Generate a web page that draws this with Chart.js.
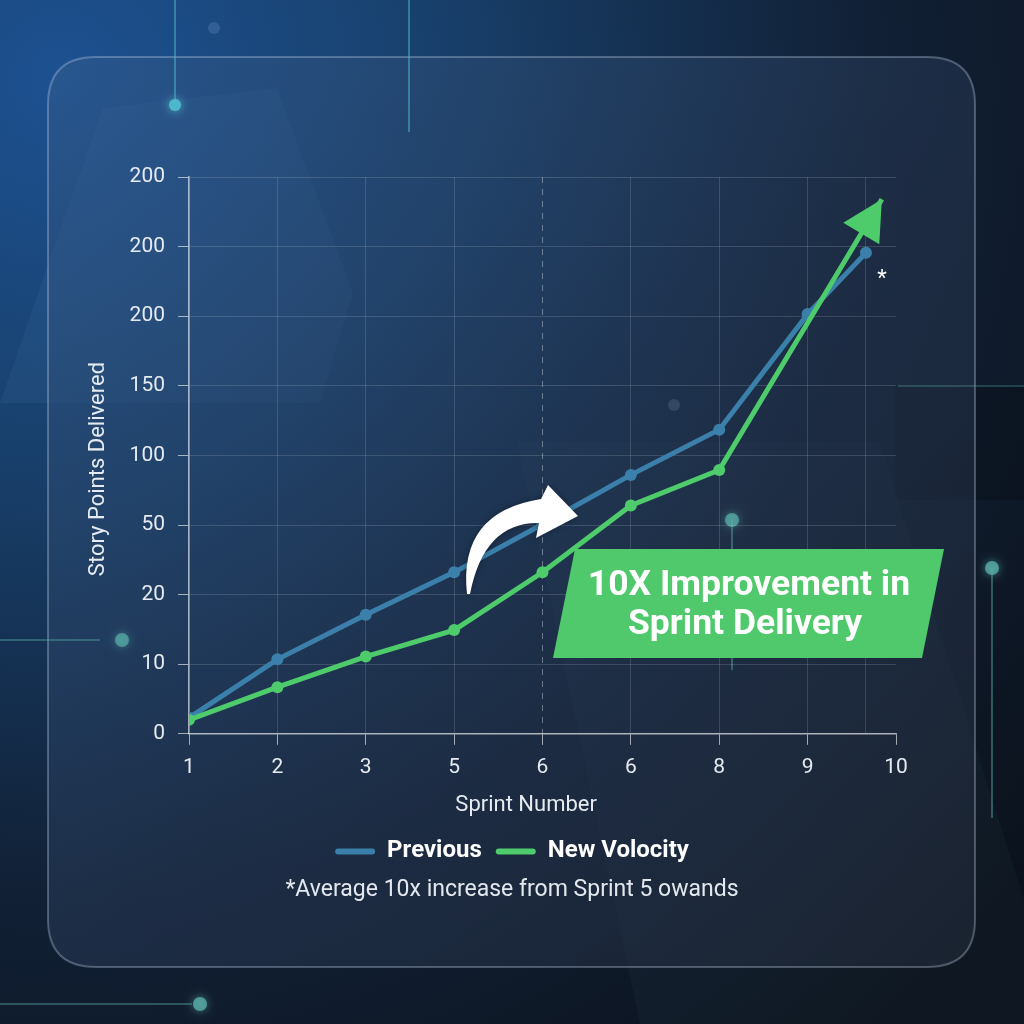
<!DOCTYPE html>
<html lang="en">
<head>
    <meta charset="UTF-8">
    <title>Sprint Velocity</title>
    <style>
        html, body { margin: 0; padding: 0; background: #0f1b2c; overflow: hidden; }
        canvas { display: block; }
    </style>
    <script src="https://cdn.jsdelivr.net/npm/chart.js"></script>
</head>
<body>
    <canvas id="velocityChart" width="1024" height="1024"></canvas>

    <script>
        // Chart data (y values are positions on the evenly spaced tick scale)
        const xTickLabels = ['1', '2', '3', '5', '6', '6', '8', '9', '10'];
        const yTickLabels = ['0', '10', '20', '50', '100', '150', '200', '200', '200'];
        const previousX = [0, 1, 2, 3, 4, 5, 6, 7, 7.66];
        const previousY = [0.23, 1.07, 1.71, 2.32, 3.01, 3.72, 4.37, 6.03, 6.91];
        const newX = [0, 1, 2, 3, 4, 5, 6, 7.84];
        const newY = [0.2, 0.67, 1.11, 1.49, 2.32, 3.28, 3.79, 7.68];
        const seriesNames = ['Previous', 'New Volocity'];
        const footnote = '*Average 10x increase from Sprint 5 owands';
        const calloutLines = ['10X Improvement in', 'Sprint Delivery'];

        const BLUE = '#3b80aa';
        const GREEN = '#4ecb6b';

        Chart.defaults.font.family = 'Roboto';

        function roundRect(ctx, x, y, w, h, r) {
            ctx.beginPath();
            ctx.moveTo(x + r, y);
            ctx.lineTo(x + w - r, y);
            ctx.quadraticCurveTo(x + w, y, x + w, y + r);
            ctx.lineTo(x + w, y + h - r);
            ctx.quadraticCurveTo(x + w, y + h, x + w - r, y + h);
            ctx.lineTo(x + r, y + h);
            ctx.quadraticCurveTo(x, y + h, x, y + h - r);
            ctx.lineTo(x, y + r);
            ctx.quadraticCurveTo(x, y, x + r, y);
            ctx.closePath();
        }

        function dot(ctx, x, y, r, color, glow) {
            ctx.save();
            ctx.shadowColor = color;
            ctx.shadowBlur = glow;
            ctx.fillStyle = color;
            ctx.beginPath();
            ctx.arc(x, y, r, 0, Math.PI * 2);
            ctx.fill();
            ctx.restore();
        }

        function line(ctx, x1, y1, x2, y2, color) {
            ctx.save();
            ctx.strokeStyle = color;
            ctx.lineWidth = 1.5;
            ctx.beginPath();
            ctx.moveTo(x1, y1);
            ctx.lineTo(x2, y2);
            ctx.stroke();
            ctx.restore();
        }

        // Background, card and decorations
        const backdropPlugin = {
            id: 'backdrop',
            beforeDraw(chart) {
                const ctx = chart.ctx;
                const w = chart.width, h = chart.height;
                ctx.save();
                const bg = ctx.createRadialGradient(60, 80, 0, 60, 80, 1250);
                bg.addColorStop(0, '#1d5191');
                bg.addColorStop(0.3, '#18406c');
                bg.addColorStop(0.65, '#112035');
                bg.addColorStop(1, '#0b121c');
                ctx.fillStyle = bg;
                ctx.fillRect(0, 0, w, h);

                // faint shapes
                ctx.fillStyle = 'rgba(120,170,230,0.07)';
                ctx.beginPath();
                ctx.moveTo(0, 403);
                ctx.lineTo(60, 230);
                ctx.lineTo(103, 108);
                ctx.lineTo(277, 88);
                ctx.lineTo(353, 293);
                ctx.lineTo(320, 403);
                ctx.closePath();
                ctx.fill();

                ctx.fillStyle = 'rgba(0,0,0,0.18)';
                ctx.fillRect(895, 385, 129, 115);

                ctx.fillStyle = 'rgba(140,170,210,0.04)';
                ctx.beginPath();
                ctx.moveTo(517, 442);
                ctx.lineTo(880, 442);
                ctx.lineTo(1024, 900);
                ctx.lineTo(1024, 1024);
                ctx.lineTo(640, 1024);
                ctx.closePath();
                ctx.fill();

                // card
                const card = ctx.createLinearGradient(48, 57, 975, 967);
                card.addColorStop(0, 'rgba(52,92,140,0.45)');
                card.addColorStop(0.5, 'rgba(40,58,86,0.5)');
                card.addColorStop(1, 'rgba(36,44,60,0.55)');
                roundRect(ctx, 48, 57, 927, 910, 48);
                ctx.fillStyle = card;
                ctx.fill();
                ctx.strokeStyle = 'rgba(200,215,235,0.32)';
                ctx.lineWidth = 2;
                ctx.stroke();

                // circuit lines and dots
                const teal = 'rgba(78,180,200,0.7)';
                line(ctx, 175, 0, 175, 100, teal);
                dot(ctx, 175, 105, 6, '#4fb7cc', 10);
                line(ctx, 409, 0, 409, 132, teal);
                dot(ctx, 214, 28, 6, 'rgba(120,160,210,0.25)', 0);
                dot(ctx, 674, 405, 6, 'rgba(130,150,180,0.22)', 0);
                line(ctx, 732, 520, 732, 670, 'rgba(90,170,170,0.6)');
                dot(ctx, 732, 520, 7, 'rgba(90,175,170,0.75)', 10);
                line(ctx, 992, 568, 992, 818, 'rgba(90,170,170,0.6)');
                dot(ctx, 992, 568, 7, 'rgba(90,175,170,0.8)', 10);
                line(ctx, 0, 640, 100, 640, 'rgba(90,170,170,0.55)');
                dot(ctx, 122, 640, 7, 'rgba(90,175,170,0.7)', 8);
                line(ctx, 0, 1004, 192, 1004, 'rgba(90,170,170,0.55)');
                dot(ctx, 200, 1004, 7, 'rgba(90,175,170,0.8)', 10);
                line(ctx, 898, 386, 1024, 386, 'rgba(90,170,170,0.4)');
                ctx.restore();
            }
        };

        // Dashed guide at Sprint 6, arrowhead, callout, curved arrow
        const overlayPlugin = {
            id: 'overlay',
            beforeDatasetsDraw(chart) {
                const ctx = chart.ctx;
                const x = chart.scales.x.getPixelForValue(4);
                ctx.save();
                ctx.strokeStyle = 'rgba(255,255,255,0.35)';
                ctx.lineWidth = 1;
                ctx.setLineDash([6, 6]);
                ctx.beginPath();
                ctx.moveTo(x, chart.chartArea.top);
                ctx.lineTo(x, chart.chartArea.bottom);
                ctx.stroke();
                ctx.restore();
            },
            afterDatasetsDraw(chart) {
                const ctx = chart.ctx;
                ctx.save();

                // green arrowhead at the end of the new velocity line
                const pts = chart.getDatasetMeta(1).data;
                const tip = pts[pts.length - 1];
                const prev = pts[pts.length - 2];
                const ang = Math.atan2(tip.y - prev.y, tip.x - prev.x);
                const len = 40, half = 21;
                const bx = tip.x - len * Math.cos(ang), by = tip.y - len * Math.sin(ang);
                ctx.fillStyle = GREEN;
                ctx.beginPath();
                ctx.moveTo(tip.x, tip.y);
                ctx.lineTo(bx - half * Math.sin(ang), by + half * Math.cos(ang));
                ctx.lineTo(bx + half * Math.sin(ang), by - half * Math.cos(ang));
                ctx.closePath();
                ctx.fill();

                // asterisk next to the last previous point
                const lastPrev = chart.getDatasetMeta(0).data[previousX.length - 1];
                ctx.fillStyle = '#ffffff';
                ctx.font = '22px Roboto';
                ctx.textAlign = 'center';
                ctx.textBaseline = 'middle';
                ctx.fillText('*', lastPrev.x + 16, lastPrev.y + 27);

                // white curved arrow
                ctx.fillStyle = '#ffffff';
                ctx.shadowColor = 'rgba(0,0,0,0.35)';
                ctx.shadowBlur = 6;
                ctx.beginPath();
                ctx.moveTo(467, 594);
                ctx.quadraticCurveTo(458, 512, 541, 499);
                ctx.lineTo(548, 485);
                ctx.lineTo(578, 516);
                ctx.lineTo(536, 538);
                ctx.lineTo(539, 523);
                ctx.quadraticCurveTo(484, 522, 470, 594);
                ctx.closePath();
                ctx.fill();
                ctx.shadowBlur = 0;

                // green callout
                ctx.fillStyle = '#4fc96b';
                ctx.beginPath();
                ctx.moveTo(575, 549);
                ctx.lineTo(944, 549);
                ctx.lineTo(922, 658);
                ctx.lineTo(553, 658);
                ctx.closePath();
                ctx.fill();

                ctx.fillStyle = '#ffffff';
                ctx.font = 'bold 33px Roboto';
                const fit = 322 / ctx.measureText(calloutLines[0]).width;
                ctx.font = 'bold ' + (33 * fit).toFixed(1) + 'px Roboto';
                ctx.fillText(calloutLines[0], 749, 586);
                ctx.fillText(calloutLines[1], 745, 625);
                ctx.restore();
            }
        };

        const data = {
            datasets: [
                {
                    label: seriesNames[0],
                    data: previousX.map((x, i) => ({ x: x, y: previousY[i] })),
                    borderColor: BLUE,
                    backgroundColor: BLUE,
                    borderWidth: 5,
                    pointRadius: 6,
                    pointHoverRadius: 6,
                    pointBorderWidth: 0,
                    order: 2
                },
                {
                    label: seriesNames[1],
                    data: newX.map((x, i) => ({ x: x, y: newY[i] })),
                    borderColor: GREEN,
                    backgroundColor: GREEN,
                    borderWidth: 5,
                    pointRadius: newX.map((x, i) => i === newX.length - 1 ? 0 : 6),
                    pointHoverRadius: 6,
                    pointBorderWidth: 0,
                    order: 1
                }
            ]
        };

        const gridColor = 'rgba(255,255,255,0.14)';
        const axisColor = 'rgba(255,255,255,0.6)';
        const tickText = '#e6ebf1';

        const options = {
            responsive: false,
            animation: false,
            layout: { padding: { top: 177, right: 0, bottom: 110, left: 0 } },
            plugins: {
                tooltip: { enabled: false },
                legend: {
                    display: true,
                    position: 'bottom',
                    maxHeight: 47,
                    labels: {
                        color: '#ffffff',
                        font: { size: 24, weight: 'bold' },
                        boxWidth: 40,
                        boxHeight: 6,
                        padding: 14,
                        useBorderRadius: true,
                        borderRadius: 3,
                        generateLabels: chart => chart.data.datasets.map((d, i) => ({
                            text: d.label,
                            fillStyle: d.borderColor,
                            strokeStyle: d.borderColor,
                            lineWidth: 0,
                            hidden: false,
                            datasetIndex: i,
                            fontColor: '#ffffff',
                            borderRadius: 3
                        }))
                    }
                },
                title: {
                    display: true,
                    position: 'bottom',
                    text: footnote,
                    color: '#e3e8ee',
                    font: { size: 23, weight: 'normal' },
                    padding: { top: 4, bottom: 10 }
                }
            },
            scales: {
                x: {
                    type: 'linear',
                    min: 0,
                    max: 8,
                    afterBuildTicks: scale => {
                        const t = xTickLabels.map((_, i) => ({ value: i }));
                        t.splice(8, 0, { value: previousX[previousX.length - 1] });
                        scale.ticks = t;
                    },
                    ticks: {
                        autoSkip: false,
                        maxRotation: 0,
                        color: tickText,
                        font: { size: 21 },
                        padding: 10,
                        callback: v => Number.isInteger(v) ? xTickLabels[v] : ''
                    },
                    grid: {
                        color: c => (c.tick && (c.tick.value === 8 || c.tick.value === 4)) ? 'transparent' : gridColor,
                        tickColor: c => (c.tick && Number.isInteger(c.tick.value)) ? axisColor : 'transparent',
                        tickLength: 11
                    },
                    border: { color: axisColor, width: 1.5 },
                    title: {
                        display: true,
                        text: 'Sprint Number      ',
                        color: tickText,
                        font: { size: 22 },
                        padding: { top: 2, bottom: 7 }
                    }
                },
                y: {
                    min: 0,
                    max: 8,
                    afterFit: scale => { scale.width = 189; },
                    ticks: {
                        stepSize: 1,
                        color: tickText,
                        font: { size: 21 },
                        padding: 13,
                        callback: v => yTickLabels[v]
                    },
                    grid: {
                        color: gridColor,
                        tickColor: axisColor,
                        tickLength: 11
                    },
                    border: { color: axisColor, width: 1.5 },
                    title: {
                        display: true,
                        text: 'Story Points Delivered     ',
                        color: tickText,
                        font: { size: 22 },
                        padding: { top: 85, bottom: 0 }
                    }
                },
                yRight: {
                    position: 'right',
                    display: true,
                    afterFit: scale => { scale.width = 128; },
                    grid: { display: false },
                    border: { display: false },
                    ticks: { display: false }
                }
            }
        };

        Chart.register(backdropPlugin, overlayPlugin);

        new Chart(document.getElementById('velocityChart').getContext('2d'), {
            type: 'line',
            data: data,
            options: options
        });
    </script>
</body>
</html>
